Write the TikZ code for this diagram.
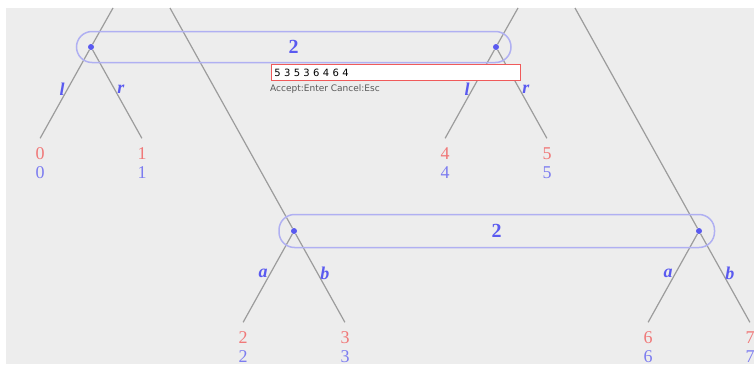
\documentclass[tikz,border=0pt]{standalone}
\usepackage{fontspec}
\setmainfont{Liberation Serif}
\newfontfamily\uifont{DejaVu Sans}
\usetikzlibrary{trees}

\definecolor{bgcol}{HTML}{EDEDED}
\definecolor{branchcol}{HTML}{9C9C9C}
\definecolor{setcol}{HTML}{B0B0F2}
\definecolor{movecol}{HTML}{5A5AF0}
\definecolor{pay1}{HTML}{F07878}
\definecolor{pay2}{HTML}{7C7CF0}
\definecolor{boxcol}{HTML}{F05A5A}

\newcommand{\pay}[2]{\textcolor{pay1}{#1}\\\textcolor{pay2}{#2}}

\begin{document}
\begin{tikzpicture}[
        x=1pt, y=-1pt,
        level distance=91.5pt,
        sibling distance=102pt,
        every node/.style={font=\fontsize{18}{19}\selectfont},
        move/.style={circle, fill=movecol, inner sep=0pt, minimum size=6pt},
        leaf/.style 2 args={inner sep=0pt, minimum size=0pt,
            label={[align=center, inner sep=2pt, yshift=-7pt]below:{\pay{#1}{#2}}}},
        choice/.style={text=movecol, inner sep=2pt, pos=.45, font=\fontsize{18}{19}\selectfont\bfseries\itshape},
        edge from parent/.style={draw=branchcol, line width=1.2pt},
        branch/.style={draw=branchcol, line width=1.2pt},
        infoset/.style={draw=setcol, line width=1.5pt, rounded corners=15.5pt},
        setlabel/.style={text=movecol, font=\fontsize{20}{24}\selectfont\bfseries},
        editbox/.style={draw=boxcol, fill=white, line width=0.8pt, text=black, inner sep=3pt,
            text width=243pt, minimum height=16pt, align=left, font=\uifont\fontsize{10}{11}\selectfont},
        hint/.style={text=black!65, inner sep=0pt, font=\uifont\fontsize{9}{10}\selectfont}
    ]
    \useasboundingbox (0,0) rectangle (754,364);
    \fill[bgcol] (6,8) rectangle (754,364);

    % player 1, upper left
    \node[move] (p1) at (91,47) {}
        child {
            node[leaf={0}{0}] (x0) {}
            edge from parent node[choice, left] {l}
        }
        child {
            node[leaf={1}{1}] (x1) {}
            edge from parent node[choice, right] {r}
        };
    % player 1, upper right
    \node[move] (p2) at (496,47) {}
        child {
            node[leaf={4}{4}] (x4) {}
            edge from parent node[choice, left] {l}
        }
        child {
            node[leaf={5}{5}] (x5) {}
            edge from parent node[choice, right] {r}
        };
    % player 2, lower left
    \node[move] (p3) at (294,231) {}
        child {
            node[leaf={2}{2}] (x2) {}
            edge from parent node[choice, left] {a}
        }
        child {
            node[leaf={3}{3}] (x3) {}
            edge from parent node[choice, right] {b}
        };
    % player 2, lower right
    \node[move] (p4) at (699,231) {}
        child {
            node[leaf={6}{6}] (x6) {}
            edge from parent node[choice, left] {a}
        }
        child {
            node[leaf={7}{7}] (x7) {}
            edge from parent node[choice, right] {b}
        };

    % branches coming from above
    \coordinate (t1) at (113,8);
    \coordinate (t3) at (170,8);
    \coordinate (t2) at (518,8);
    \coordinate (t4) at (575,8);
    \draw[branch] (t1) -- (p1);
    \draw[branch] (t3) -- (p3);
    \draw[branch] (t2) -- (p2);
    \draw[branch] (t4) -- (p4);

    % information sets
    \draw[infoset] ([shift={(-14.5,-15.5)}]p1.center) rectangle ([shift={(15,15.5)}]p2.center);
    \path (p1) -- node[setlabel] {2} (p2);
    \draw[infoset] ([shift={(-15,-16.5)}]p3.center) rectangle ([shift={(15.5,16.5)}]p4.center);
    \path (p3) -- node[setlabel] {2} (p4);

    % entry field
    \node[editbox, anchor=north west] (entry) at (271,64) {5 3 5 3 6 4 6 4};
    \node[hint, anchor=west] (help) at (270,89) {Accept:Enter Cancel:Esc};
\end{tikzpicture}
\end{document}
